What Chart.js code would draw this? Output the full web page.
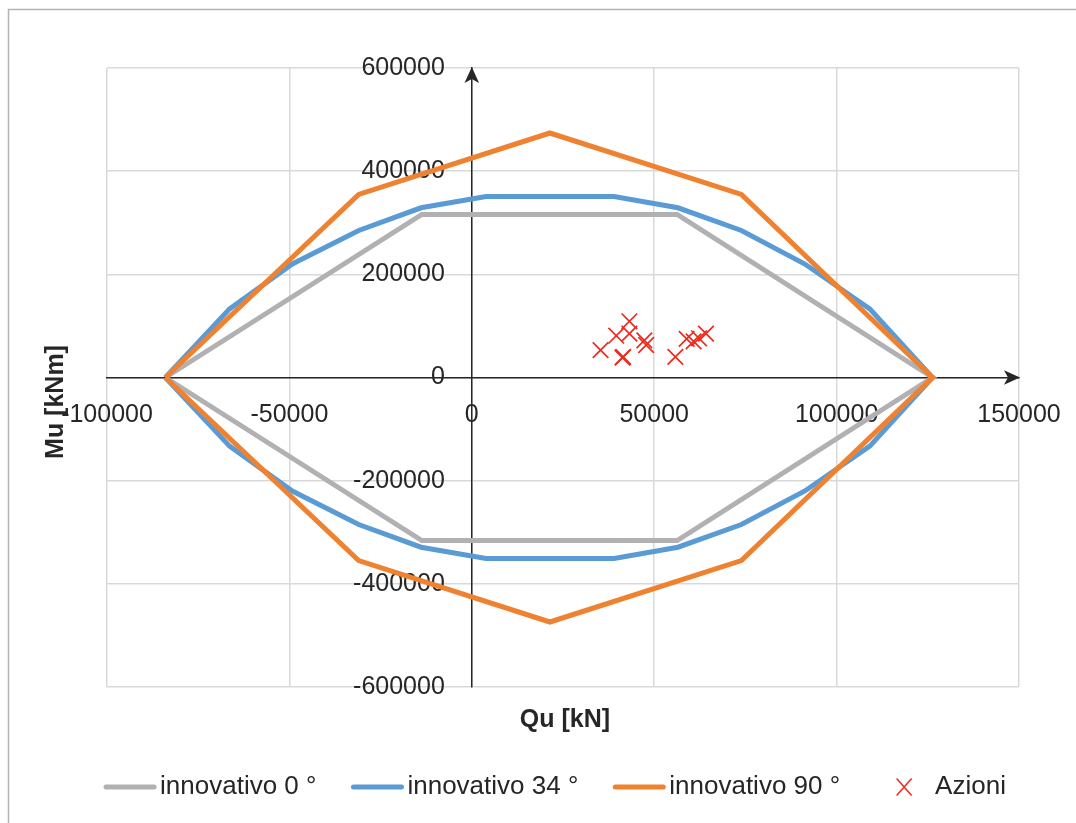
<!DOCTYPE html>
<html>
<head>
<meta charset="utf-8">
<title>Domini di interazione</title>
<script src="https://cdn.jsdelivr.net/npm/chart.js@4.4.1/dist/chart.umd.min.js"></script>
<style>
  html, body { margin: 0; padding: 0; background: #ffffff; }
  canvas { display: block; }
</style>
</head>
<body>
<canvas id="chart" width="1076" height="823"></canvas>
<script>
// Interaction domains: axial force Qu [kN] vs bending moment Mu [kNm]
const qu0  = [-84000, -13700, 56300, 126300, 56300, -13700, -84000];
const mu0  = [0, 316000, 316000, 0, -316000, -316000, 0];

const qu34 = [-84000, -66400, -49200, -31000, -13900, 3900, 39000, 56500, 73900, 91300, 109100, 126300,
              109100, 91300, 73900, 56500, 39000, 3900, -13900, -31000, -49200, -66400, -84000];
const mu34 = [0, 133000, 220000, 285000, 329000, 351000, 351000, 329000, 285000, 220000, 133000, 0,
              -133000, -220000, -285000, -329000, -351000, -351000, -329000, -285000, -220000, -133000, 0];

const qu90 = [-84000, -31000, 21400, 73900, 126300, 73900, 21400, -31000, -84000];
const mu90 = [0, 355000, 474000, 355000, 0, -355000, -474000, -355000, 0];

// Design actions (Qu, Mu) pairs
const quAzioni = [35300, 39600, 41300, 41500, 43200, 43200, 47300, 47800, 55800, 58900, 60800, 62300, 64200];
const muAzioni = [53000, 81000, 38500, 40000, 109000, 85000, 72000, 63000, 40000, 75000, 70000, 76000, 85000];

const xTicks = [-100000, -50000, 0, 50000, 100000, 150000];
const yTicks = [-600000, -400000, -200000, 0, 200000, 400000, 600000];

const seriesNames = ['innovativo 0 °', 'innovativo 34 °', 'innovativo 90 °', 'Azioni'];
const axisTitles = { x: 'Qu [kN]', y: 'Mu [kNm]' };

const COLORS = { gray: '#b1b1b4', blue: '#5b9bd5', orange: '#ef8230', red: '#ee2a1f', text: '#262626' };
const FONT = 'Liberation Sans, Arial, sans-serif';
const Y_LABEL_GAP = 27;

function toPoints(xs, ys) {
  return xs.map((x, i) => ({ x: x, y: ys[i] }));
}

function fixedTicks(values) {
  return function (scale) { scale.ticks = values.map(v => ({ value: v })); };
}

function noPadding(scale) {
  scale.paddingLeft = 0; scale.paddingRight = 0;
  scale.paddingTop = 0; scale.paddingBottom = 0;
}

function plainNumber(value) {
  return String(value);
}

// Outer chart frame (only top and left edges fall inside the canvas)
const framePlugin = {
  id: 'frame',
  beforeDraw(chart) {
    const ctx = chart.ctx;
    ctx.save();
    ctx.fillStyle = '#ffffff';
    ctx.fillRect(0, 0, chart.width, chart.height);
    ctx.strokeStyle = '#b4b4b4';
    ctx.lineWidth = 1.5;
    ctx.strokeRect(8.5, 9.5, chart.width + 40, chart.height + 40);
    ctx.restore();

    // keep the Mu labels clear of the vertical axis line
    const items = chart.scales.y.getLabelItems();
    if (!items._gapApplied) {
      items.forEach(it => { it.options.translation[0] -= Y_LABEL_GAP; });
      items._gapApplied = true;
    }
  }
};

// Arrowheads on the axes, axis titles and the legend row
const decorPlugin = {
  id: 'decor',
  afterDraw(chart) {
    const ctx = chart.ctx;
    const area = chart.chartArea;
    const xs = chart.scales.x, ys = chart.scales.y;
    const x0 = xs.getPixelForValue(0);
    const y0 = ys.getPixelForValue(0);

    ctx.save();
    ctx.fillStyle = COLORS.text;
    // arrow at the top of the Mu axis
    ctx.beginPath();
    ctx.moveTo(x0, area.top - 1);
    ctx.lineTo(x0 - 7.3, area.top + 15);
    ctx.lineTo(x0, area.top + 11);
    ctx.lineTo(x0 + 7.3, area.top + 15);
    ctx.closePath();
    ctx.fill();
    // arrow at the right end of the Qu axis
    ctx.beginPath();
    ctx.moveTo(area.right + 1, y0);
    ctx.lineTo(area.right - 15, y0 - 7.3);
    ctx.lineTo(area.right - 11, y0);
    ctx.lineTo(area.right - 15, y0 + 7.3);
    ctx.closePath();
    ctx.fill();

    // axis titles
    ctx.font = 'bold 25px ' + FONT;
    ctx.textAlign = 'center';
    ctx.textBaseline = 'alphabetic';
    ctx.fillText(axisTitles.x, (area.left + area.right) / 2 + 2, 727);
    ctx.save();
    ctx.translate(63, 402);
    ctx.rotate(-Math.PI / 2);
    ctx.fillText(axisTitles.y, 0, 0);
    ctx.restore();

    // legend
    ctx.font = '26px ' + FONT;
    ctx.textAlign = 'left';
    ctx.textBaseline = 'middle';
    const sampleW = 52, gapText = 4, gapItem = 35, cy = 787;
    const items = chart.data.datasets.map(ds => ({
      ds: ds, w: sampleW + gapText + ctx.measureText(ds.label).width
    }));
    const total = items.reduce((s, it) => s + it.w, 0) + gapItem * (items.length - 1);
    let x = 553 - total / 2;
    items.forEach(it => {
      const ds = it.ds;
      if (ds.showLine) {
        ctx.strokeStyle = ds.borderColor;
        ctx.lineWidth = 5;
        ctx.lineCap = 'round';
        ctx.beginPath();
        ctx.moveTo(x + 2, cy);
        ctx.lineTo(x + sampleW - 2, cy);
        ctx.stroke();
      } else {
        ctx.strokeStyle = ds.borderColor;
        ctx.lineWidth = 1.5;
        ctx.lineCap = 'butt';
        const cx = x + sampleW / 2 + 3, h = 7.5;
        ctx.beginPath();
        ctx.moveTo(cx - h, cy - h - 1); ctx.lineTo(cx + h, cy + h + 1);
        ctx.moveTo(cx + h, cy - h - 1); ctx.lineTo(cx - h, cy + h + 1);
        ctx.stroke();
        x += 4;
      }
      ctx.fillStyle = COLORS.text;
      ctx.fillText(ds.label, x + sampleW + gapText, cy);
      x += it.w + gapItem;
    });
    ctx.restore();
  }
};

const lineStyle = { showLine: true, borderWidth: 5, pointRadius: 0, fill: false, tension: 0 };

new Chart(document.getElementById('chart'), {
  type: 'scatter',
  data: {
    datasets: [
      Object.assign({ label: seriesNames[0], data: toPoints(qu0, mu0), borderColor: COLORS.gray, backgroundColor: COLORS.gray, order: 4 }, lineStyle),
      Object.assign({ label: seriesNames[1], data: toPoints(qu34, mu34), borderColor: COLORS.blue, backgroundColor: COLORS.blue, order: 3 }, lineStyle),
      Object.assign({ label: seriesNames[2], data: toPoints(qu90, mu90), borderColor: COLORS.orange, backgroundColor: COLORS.orange, order: 2 }, lineStyle),
      {
        label: seriesNames[3], data: toPoints(quAzioni, muAzioni), showLine: false,
        pointStyle: 'crossRot', pointRadius: 11, borderWidth: 1.7,
        borderColor: COLORS.red, backgroundColor: COLORS.red, order: 1
      }
    ]
  },
  options: {
    responsive: false,
    animation: false,
    devicePixelRatio: 1,
    layout: { padding: { left: 107, right: 57, top: 68, bottom: 136 } },
    plugins: { legend: { display: false }, tooltip: { enabled: false } },
    scales: {
      x: {
        type: 'linear',
        position: { y: 0 },
        min: xTicks[0], max: xTicks[xTicks.length - 1],
        afterBuildTicks: fixedTicks(xTicks),
        afterFit: noPadding,
        grid: { color: '#d9d9d9', lineWidth: 1.5, drawTicks: false },
        border: { display: true, color: COLORS.text, width: 1.5 },
        ticks: { color: COLORS.text, font: { family: FONT, size: 25 }, padding: 23, maxRotation: 0, autoSkip: false, callback: plainNumber }
      },
      y: {
        type: 'linear',
        position: { x: 0 },
        min: yTicks[0], max: yTicks[yTicks.length - 1],
        afterBuildTicks: fixedTicks(yTicks),
        afterFit: noPadding,
        grid: { color: '#d9d9d9', lineWidth: 1.5, drawTicks: false },
        border: { display: true, color: COLORS.text, width: 1.5 },
        ticks: { color: COLORS.text, font: { family: FONT, size: 25 }, autoSkip: false, callback: plainNumber }
      }
    }
  },
  plugins: [framePlugin, decorPlugin]
});
</script>
</body>
</html>
